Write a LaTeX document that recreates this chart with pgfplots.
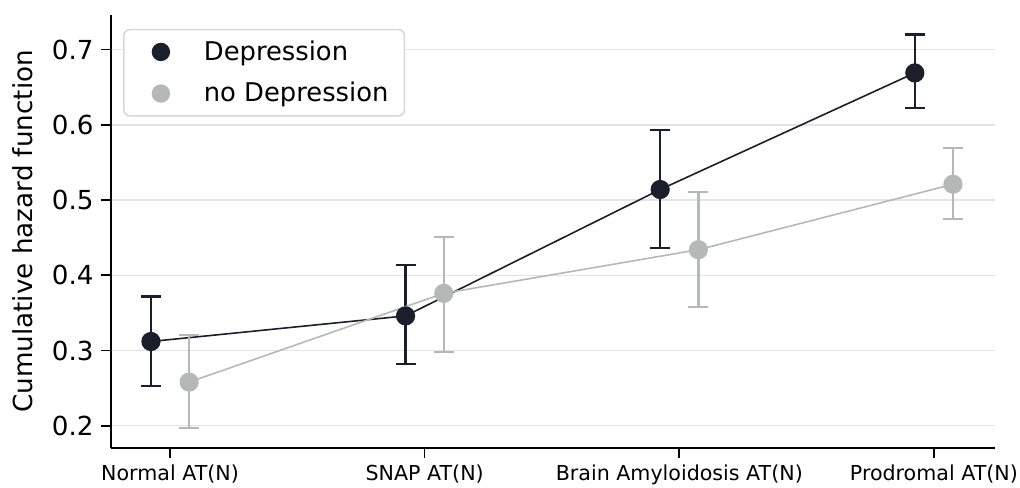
\documentclass[border=0pt]{standalone}
\usepackage{pgfplots}
\pgfplotsset{compat=1.18}
\usepackage{pgfplotstable}
\usepackage{fontspec}
\setmainfont{DejaVu Sans}
\definecolor{dep}{HTML}{1B1F2B}
\definecolor{nodep}{HTML}{B4B9B8}
\definecolor{gridc}{HTML}{E4E4E4}
\definecolor{legc}{HTML}{D8D8D8}
\pgfplotstableread{
x y ep em
-0.075 0.312 0.060 0.059
0.925 0.346 0.068 0.064
1.925 0.514 0.079 0.078
2.925 0.669 0.051 0.047
}\dep
\pgfplotstableread{
x y ep em
0.075 0.258 0.063 0.061
1.075 0.376 0.075 0.078
2.075 0.434 0.077 0.076
3.075 0.521 0.048 0.046
}\nodep
\begin{document}
\begin{tikzpicture}
\begin{axis}[
  name=ax,
  scale only axis,
  width=442.15pt, height=216.35pt,
  xmin=-0.233, xmax=3.24,
  ymin=0.1708, ymax=0.746,
  axis x line*=bottom, axis y line*=left,
  axis line style={line width=0.8pt, black},
  xtick={0,1,2,3},
  xticklabels={Normal AT(N),SNAP AT(N),Brain Amyloidosis AT(N),Prodromal AT(N)},
  ytick={0.2,0.3,0.4,0.5,0.6,0.7},
  y tick label style={/pgf/number format/fixed, /pgf/number format/precision=1, /pgf/number format/fixed zerofill},
  /pgf/number format/assume math mode=true,
  tick style={line width=0.8pt, black},
  major tick length=5pt,
  tick align=outside,
  xtick pos=bottom, ytick pos=left,
  ymajorgrids,
  grid style={gridc, line width=0.7pt},
  y tick label style={font=\fontsize{13.1}{15}\selectfont},
  x tick label style={font=\fontsize{10.3}{12}\selectfont},
  ylabel={Cumulative hazard function},
  ylabel style={font=\fontsize{13.1}{15}\selectfont, at={(axis description cs:0,0.5)}, anchor=center, yshift=43.9pt},
  legend style={at={(axis description cs:0.014,0.968)}, anchor=north west, draw=legc, line width=0.8pt,
    rounded corners=3pt, fill=white, font=\fontsize{12.9}{15}\selectfont,
    row sep=5.5pt, inner xsep=6pt, inner ysep=3.5pt},
  legend cell align=left,
  legend image code/.code={\path[draw=none] (0pt,0pt) -- (32pt,0pt); \fill[#1, draw=none] (12.5pt,0pt) circle (4.6pt);},
]
\addplot[color=dep, line width=0.8pt, mark=*, mark size=4.4pt,
  mark options={draw=dep, fill=dep},
  error bars/.cd, y dir=both, y explicit,
  error bar style={line width=1.2pt, dep},
  error mark options={rotate=90, mark size=5pt, line width=1.2pt, dep}]
  table[x=x, y=y, y error plus=ep, y error minus=em]{\dep};
\addlegendentry{Depression}
\addplot[color=nodep, line width=0.8pt, mark=*, mark size=4.4pt,
  mark options={draw=nodep, fill=nodep},
  error bars/.cd, y dir=both, y explicit,
  error bar style={line width=1.2pt, nodep},
  error mark options={rotate=90, mark size=5pt, line width=1.2pt, nodep}]
  table[x=x, y=y, y error plus=ep, y error minus=em]{\nodep};
\addlegendentry{no Depression}
\end{axis}
\pgfresetboundingbox
\path ([xshift=-55.35pt,yshift=-19.65pt]ax.south west) rectangle ([xshift=12.5pt,yshift=7.5pt]ax.north east);
\end{tikzpicture}
\end{document}
